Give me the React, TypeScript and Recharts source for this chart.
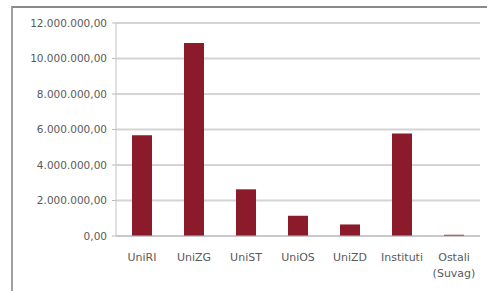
import React from 'react';
import { BarChart, Bar, XAxis, YAxis, CartesianGrid } from 'recharts';

const categories = ['UniRI', 'UniZG', 'UniST', 'UniOS', 'UniZD', 'Instituti', 'Ostali (Suvag)'];
const amounts = [5670000, 10870000, 2630000, 1140000, 650000, 5780000, 70000];
const yTicks = [0, 2000000, 4000000, 6000000, 8000000, 10000000, 12000000];

const data = categories.map((name, i) => ({ name, value: amounts[i] }));

// 12000000 -> "12.000.000,00"
const fmt = (v: number) => {
  const s = Math.round(v).toString().replace(/\B(?=(\d{3})+(?!\d))/g, '.');
  return s + ',00';
};

const XTick = (props: any) => {
  const { x, y, payload } = props;
  const lines = String(payload.value).split(' ');
  return (
    <text x={x} y={y} textAnchor="middle" fill="#5a5a5a" fontSize={11} fontFamily="DejaVu Sans">
      {lines.map((l, i) => (
        <tspan key={i} x={x} dy={i === 0 ? 11 : 16}>{l}</tspan>
      ))}
    </text>
  );
};

const App: React.FC = () => {
  return (
    <div style={{ position: 'absolute', left: 0, top: 0, width: 487, height: 291, background: '#fff', overflow: 'hidden' }}>
      <div
        style={{
          position: 'absolute', left: 11, top: 6, width: 480, height: 290,
          borderTop: '2px solid #8a8a8a', borderLeft: '2px solid #a0a0a0',
        }}
      />
      <div style={{ position: 'absolute', left: 0, top: 0 }}>
        <BarChart width={487} height={291} data={data} margin={{ top: 23, right: 7, bottom: 25, left: 0 }}>
          <CartesianGrid vertical={false} stroke="#d4d4d4" strokeWidth={2} />
          <XAxis
            dataKey="name"
            height={30}
            interval={0}
            tickLine={false}
            axisLine={{ stroke: '#bdbdbd' }}
            tick={<XTick />}
            tickMargin={8}
          />
          <YAxis
            width={116}
            domain={[0, 12000000]}
            ticks={yTicks}
            tickFormatter={fmt}
            tickSize={4}
            tickMargin={5}
            axisLine={{ stroke: '#c4c4c4' }}
            tickLine={{ stroke: '#bdbdbd' }}
            tick={{ fill: '#5a5a5a', fontSize: 10.5, fontFamily: 'DejaVu Sans' }}
          />
          <Bar dataKey="value" fill="#8b1a2b" barSize={20} isAnimationActive={false} />
        </BarChart>
      </div>
    </div>
  );
};

export default App;
